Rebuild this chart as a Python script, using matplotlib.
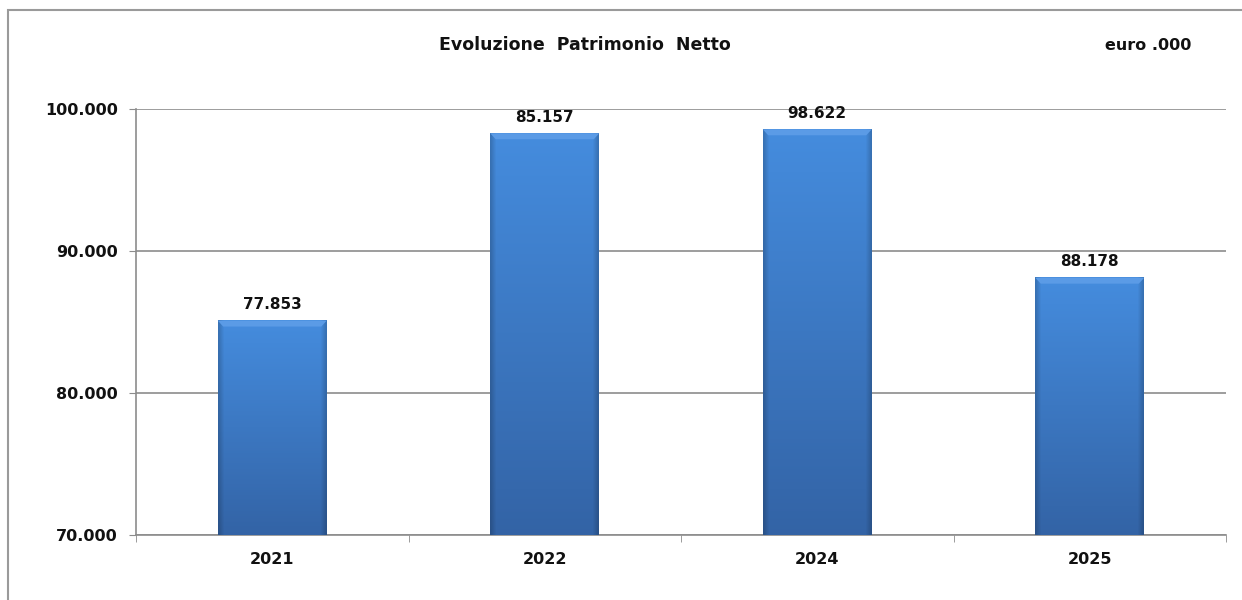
import numpy as np
import matplotlib.pyplot as plt
from matplotlib.patches import Rectangle, Polygon

years = ["2021", "2022", "2024", "2025"]
bar_values = [85100, 98290, 98570, 88120]
bar_labels = ["77.853", "85.157", "98.622", "88.178"]
y_ticks = [70000, 80000, 90000, 100000]
y_tick_labels = ["70.000", "80.000", "90.000", "100.000"]

TITLE = "Evoluzione  Patrimonio  Netto"
UNIT = "euro .000"
Y_MIN, Y_MAX = 70000, 100000
BAR_WIDTH = 0.4


def bar_gradient(n_rows=200, n_cols=60):
    """Vertical blue gradient with darker side edges, like the Excel bevel bars."""
    top = np.array([0.27, 0.55, 0.87])
    bottom = np.array([0.20, 0.39, 0.65])
    t = np.linspace(0, 1, n_rows)[:, None, None]
    img = top * (1 - t) + bottom * t
    img = np.repeat(img, n_cols, axis=1)
    x = np.linspace(0, 1, n_cols)
    edge = np.clip(np.minimum(x, 1 - x) / 0.05, 0, 1)
    shade = 0.82 + 0.18 * edge
    return img * shade[None, :, None]


fig = plt.figure(figsize=(12.42, 6.0), dpi=100)
ax = fig.add_axes([136 / 1242, 1 - 535 / 600, 1090 / 1242, 426 / 600])

xs = np.arange(len(years))
grad = bar_gradient()
bevel_dy = 420
bevel_dx = 0.02
for x, v, lab in zip(xs, bar_values, bar_labels):
    x0, x1 = x - BAR_WIDTH / 2, x + BAR_WIDTH / 2
    ax.imshow(grad, extent=(x0, x1, Y_MIN, v), aspect="auto", zorder=3,
              interpolation="bilinear")
    top_bevel = Polygon([(x0, v), (x1, v), (x1 - bevel_dx, v - bevel_dy),
                         (x0 + bevel_dx, v - bevel_dy)],
                        closed=True, facecolor="#5b9be6", edgecolor="none", zorder=4)
    ax.add_patch(top_bevel)
    ax.annotate(lab, (x, v), xytext=(0, 6), textcoords="offset points",
                ha="center", va="bottom", fontsize=11, fontweight="bold",
                color="#111111", zorder=5)

ax.set_xlim(-0.5, len(years) - 0.5)
ax.set_ylim(Y_MIN, Y_MAX)

ax.set_yticks(y_ticks)
ax.set_yticklabels(y_tick_labels, fontsize=11.5, fontweight="bold", color="#111111")
ax.set_xticks(xs)
ax.set_xticklabels(years, fontsize=11.5, fontweight="bold", color="#111111")
ax.set_xticks(np.arange(-0.5, len(years)), minor=True)
ax.tick_params(axis="x", which="major", length=0, pad=12)
ax.tick_params(axis="x", which="minor", length=5, color="#8c8c8c", direction="out")
ax.tick_params(axis="y", length=5, color="#8c8c8c", direction="out", pad=8)

ax.grid(axis="y", color="#8c8c8c", linewidth=1.2, zorder=0)
ax.set_axisbelow(True)
for side in ["top", "right"]:
    ax.spines[side].set_visible(False)
for side in ["left", "bottom"]:
    ax.spines[side].set_color("#8c8c8c")
    ax.spines[side].set_linewidth(1.2)

fig.text(585 / 1242, 1 - 45 / 600, TITLE, ha="center", va="center",
         fontsize=12.5, fontweight="bold", color="#111111")
fig.text(1148 / 1242, 1 - 46 / 600, UNIT, ha="center", va="center",
         fontsize=11.5, fontweight="bold", color="#111111")

border = Rectangle((8 / 1242, -0.05), 1.1, 1 - 10 / 600 + 0.05,
                   transform=fig.transFigure, fill=False,
                   edgecolor="#9a9a9a", linewidth=1.5, clip_on=False)
fig.patches.append(border)

fig.savefig("out.png", dpi=100)
